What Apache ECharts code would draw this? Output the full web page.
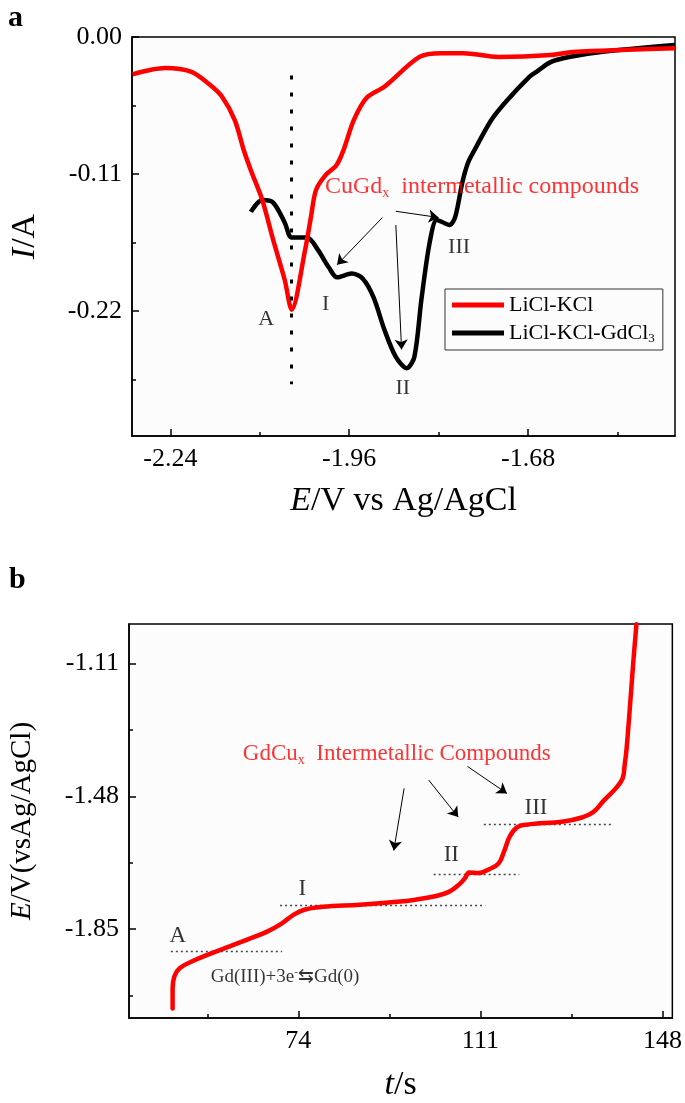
<!DOCTYPE html>
<html><head><meta charset="utf-8">
<script src="https://cdn.jsdelivr.net/npm/echarts@6/dist/echarts.min.js"></script>
<style>html,body{margin:0;padding:0;background:#fff}#c{width:685px;height:1103px}</style>
</head><body><div id="c"></div>
<script>
// ---------- Panel a data (E / V, I / A) ----------
const redE = [-2.299,-2.248,-2.207,-2.179,-2.159,-2.139,-2.125,-2.114,-2.096,-2.079,-2.061,-2.050,-2.029,-2.020,-2.012,-1.997,-1.980,-1.969,-1.953,-1.933,-1.905,-1.850,-1.816,-1.781,-1.727,-1.644,-1.610,-1.450];
const redI = [-0.030,-0.025,-0.028,-0.038,-0.048,-0.067,-0.091,-0.107,-0.131,-0.163,-0.195,-0.219,-0.171,-0.145,-0.123,-0.111,-0.103,-0.091,-0.067,-0.049,-0.040,-0.016,-0.013,-0.013,-0.016,-0.0145,-0.012,-0.009];
const blackE = [-2.114,-2.096,-2.079,-2.061,-2.050,-2.026,-2.009,-1.992,-1.979,-1.956,-1.939,-1.922,-1.905,-1.887,-1.870,-1.858,-1.847,-1.834,-1.823,-1.813,-1.803,-1.794,-1.783,-1.774,-1.764,-1.738,-1.713,-1.678,-1.667,-1.644,-1.616,-1.566,-1.450];
const blackI = [-0.1405,-0.131,-0.133,-0.149,-0.161,-0.161,-0.171,-0.185,-0.193,-0.190,-0.194,-0.209,-0.235,-0.257,-0.266,-0.257,-0.211,-0.165,-0.147,-0.149,-0.151,-0.1445,-0.117,-0.101,-0.091,-0.067,-0.051,-0.032,-0.028,-0.020,-0.016,-0.012,-0.0065];
const seriesNames = ['LiCl-KCl', 'LiCl-KCl-GdCl3'];
const topXLabels = [-2.24, -1.96, -1.68];
const topXMinor = [-2.10, -1.82, -1.54];
const topYLabels = [-0.22, -0.11, 0];
const topYMinor = [-0.275, -0.165, -0.055];
const topVLine = [[-2.050, -0.031], [-2.050, -0.279]];
const topTags = ['A', 'I', 'II', 'III'];
const topTagE = [-2.090, -1.997, -1.876, -1.788];
const topTagI = [-0.227, -0.215, -0.282, -0.169];
const topTitlePos = [-1.752, -0.1205];
const topArrows = [
  [[-1.908, -0.145], [-1.979, -0.183]],
  [[-1.887, -0.151], [-1.878, -0.251]],
  [[-1.887, -0.140], [-1.820, -0.145]]
];

// ---------- Panel b data (t / s, E / V) ----------
const timeS = [48.46,48.46,48.83,49.94,52.57,56.41,60.05,63.89,67.67,70.68,72.93,75.21,78.95,86.49,94.02,97.80,101.5,104.5,106.8,107.97,108.7,110.6,112.8,114.7,115.85,117.0,118.5,120.4,127.9,131.6,133.95,136.2,138.5,139.9,140.3,140.7,141.6,142.1,142.7];
const potE = [-2.071,-2.016,-1.981,-1.958,-1.939,-1.917,-1.898,-1.878,-1.857,-1.834,-1.811,-1.796,-1.788,-1.782,-1.774,-1.768,-1.759,-1.747,-1.724,-1.706,-1.692,-1.694,-1.683,-1.667,-1.632,-1.591,-1.566,-1.559,-1.550,-1.539,-1.524,-1.490,-1.458,-1.430,-1.394,-1.348,-1.191,-1.100,-1.001];
const botXLabels = [74, 111, 148];
const botXMinor = [55.5, 92.5, 129.5];
const botYLabels = [-1.85, -1.48, -1.11];
const botYMinor = [-2.035, -1.665, -1.295];
const botTags = ['A', 'I', 'II', 'III'];
const botTagT = [49.5, 74.8, 105.1, 122.3];
const botTagE = [-1.868, -1.739, -1.642, -1.513];
const botLevels = [
  [[48.1, -1.912], [70.7, -1.912]],
  [[70.3, -1.783], [112.0, -1.783]],
  [[101.5, -1.697], [118.9, -1.697]],
  [[111.7, -1.559], [137.7, -1.559]]
];
const botArrows = [
  [[95.5, -1.458], [93.4, -1.631]],
  [[100.5, -1.435], [106.5, -1.538]],
  [[108.4, -1.397], [116.4, -1.472]]
];
const botTitlePos = [94.0, -1.362];
const botEqPos = [71.3, -1.983];

const FF = '"Liberation Serif", "Times New Roman", serif';
const zip = (a, b) => a.map((v, i) => [v, b[i]]);

function mainAxis(grid, min, max, labels, fmt, name, nameGap, nameSize, isY) {
  return {
    type: 'value', gridIndex: grid, min: min, max: max,
    position: isY ? 'left' : 'bottom',
    name: name, nameLocation: 'middle', nameGap: nameGap,
    nameTextStyle: { fontFamily: FF, fontSize: nameSize, color: '#000',
      rich: { i: { fontFamily: FF, fontSize: nameSize, fontStyle: 'italic', color: '#000' } } },
    axisLine: { show: true, onZero: false, lineStyle: { color: '#000', width: 1.5 } },
    axisTick: { show: true, inside: true, length: 7, customValues: labels, lineStyle: { color: '#000', width: 1.5 } },
    axisLabel: { show: true, customValues: labels, formatter: fmt, fontFamily: FF, fontSize: 26, color: '#000', margin: 10 },
    splitLine: { show: false }
  };
}
function minorAxis(grid, min, max, minor, isY) {
  return {
    type: 'value', gridIndex: grid, min: min, max: max,
    position: isY ? 'left' : 'bottom',
    axisLine: { show: false, onZero: false },
    axisTick: { show: true, inside: true, length: 4, customValues: minor, lineStyle: { color: '#000', width: 1.5 } },
    axisLabel: { show: false },
    splitLine: { show: false }
  };
}

function textSeries(xi, yi, items, size, color) {
  return {
    type: 'scatter', xAxisIndex: xi, yAxisIndex: yi, symbolSize: 1, silent: true, z: 10,
    itemStyle: { color: 'rgba(0,0,0,0)' },
    label: {
      show: true, position: 'inside', fontFamily: FF, fontSize: size, color: color,
      formatter: p => p.data.txt,
      rich: {
        sub: { fontFamily: FF, fontSize: Math.round(size * 0.6), color: color, verticalAlign: 'bottom', padding: [Math.round(size*0.5), 0, 0, 0] },
        sup: { fontFamily: FF, fontSize: Math.round(size * 0.6), color: color, padding: [0, 0, Math.round(size*0.5), 0] }
      }
    },
    data: items
  };
}

const chart = echarts.init(document.getElementById('c'), null, { renderer: 'canvas' });
const option = {
  animation: false,
  backgroundColor: '#fff',
  title: [
    { text: 'a', left: 3, top: -2, textStyle: { fontFamily: FF, fontSize: 30, fontWeight: 'bold', color: '#000' } },
    { text: 'b', left: 4, top: 560, textStyle: { fontFamily: FF, fontSize: 30, fontWeight: 'bold', color: '#000' } }
  ],
  grid: [
    { left: 129, top: 37, width: 546, height: 399, show: true, borderColor: '#000', borderWidth: 1.5, backgroundColor: '#fcfcfc' },
    { left: 129, top: 624, width: 546, height: 399, show: true, borderColor: '#000', borderWidth: 1.5, backgroundColor: '#fcfcfc' }
  ],
  legend: {
    data: seriesNames, orient: 'vertical', left: 445, top: 289,
    borderColor: '#333', borderWidth: 1, padding: [5, 8, 5, 7], itemGap: 6,
    itemWidth: 52, itemHeight: 5, icon: 'rect',
    textStyle: { fontFamily: FF, fontSize: 22, color: '#000',
      rich: { s: { fontFamily: FF, fontSize: 13, color: '#000', verticalAlign: 'bottom', padding: [11, 0, 0, 0] } } },
    formatter: n => n === 'LiCl-KCl-GdCl3' ? 'LiCl-KCl-GdCl{s|3}' : n
  },
  xAxis: [
    mainAxis(0, -2.30, -1.45, topXLabels, v => v.toFixed(2), '{i|E}/V vs Ag/AgCl', 48, 34, false),
    minorAxis(0, -2.30, -1.45, topXMinor, false),
    mainAxis(1, 39.6, 150, botXLabels, v => String(Math.round(v)), '{i|t}/s', 50, 34, false),
    minorAxis(1, 39.6, 150, botXMinor, false)
  ],
  yAxis: [
    mainAxis(0, -0.3205, 0, topYLabels, v => v.toFixed(2), '{i|I}/A', 90, 34, true),
    minorAxis(0, -0.3205, 0, topYMinor, true),
    mainAxis(1, -2.0976, -1.00, botYLabels, v => v.toFixed(2), '{i|E}/V(vsAg/AgCl)', 92, 29, true),
    minorAxis(1, -2.0976, -1.00, botYMinor, true)
  ],
  series: [
    { name: seriesNames[0], type: 'line', xAxisIndex: 0, yAxisIndex: 0, data: zip(redE, redI),
      smooth: 0.3, showSymbol: false, symbol: 'none', z: 4,
      lineStyle: { color: '#ff0000', width: 4.5, join: 'round' }, itemStyle: { color: '#ff0000' } },
    { name: seriesNames[1], type: 'line', xAxisIndex: 0, yAxisIndex: 0, data: zip(blackE, blackI),
      smooth: 0.3, showSymbol: false, symbol: 'none', z: 3,
      lineStyle: { color: '#000', width: 4.5, join: 'round' }, itemStyle: { color: '#000' } },
    { type: 'lines', coordinateSystem: 'cartesian2d', xAxisIndex: 0, yAxisIndex: 0, silent: true, z: 5,
      lineStyle: { color: '#000', width: 3, type: [4, 13], opacity: 1 },
      data: [{ coords: topVLine }] },
    { type: 'lines', coordinateSystem: 'cartesian2d', xAxisIndex: 0, yAxisIndex: 0, silent: true, z: 6,
      symbol: ['none', 'arrow'], symbolSize: [7, 10],
      lineStyle: { color: '#000', width: 1, opacity: 1 },
      data: topArrows.map(c => ({ coords: c })) },
    textSeries(0, 0, topTags.map((t, i) => ({ value: [topTagE[i], topTagI[i]], txt: t })), 22, '#000'),
    textSeries(0, 0, [{ value: topTitlePos, txt: 'CuGd{sub|x}  intermetallic compounds' }], 24, '#ff0000'),

    { name: 'E-t', type: 'line', xAxisIndex: 2, yAxisIndex: 2, data: zip(timeS, potE),
      smooth: 0.4, showSymbol: false, symbol: 'none', z: 4,
      lineStyle: { color: '#ff0000', width: 4.5, cap: 'round', join: 'round' } },
    { type: 'lines', coordinateSystem: 'cartesian2d', xAxisIndex: 2, yAxisIndex: 2, silent: true, z: 3,
      lineStyle: { color: '#444', width: 1.3, type: [2, 3], opacity: 1 },
      data: botLevels.map(c => ({ coords: c })) },
    { type: 'lines', coordinateSystem: 'cartesian2d', xAxisIndex: 2, yAxisIndex: 2, silent: true, z: 6,
      symbol: ['none', 'arrow'], symbolSize: [7, 10],
      lineStyle: { color: '#000', width: 1, opacity: 1 },
      data: botArrows.map(c => ({ coords: c })) },
    textSeries(2, 2, botTags.map((t, i) => ({ value: [botTagT[i], botTagE[i]], txt: t })), 23, '#000'),
    textSeries(2, 2, [{ value: botTitlePos, txt: 'GdCu{sub|x}  Intermetallic Compounds' }], 23, '#ff0000'),
    textSeries(2, 2, [{ value: botEqPos, txt: 'Gd(III)+3e{sup|-}⇆Gd(0)' }], 19, '#000')
  ]
};
chart.setOption(option);
</script></body></html>
